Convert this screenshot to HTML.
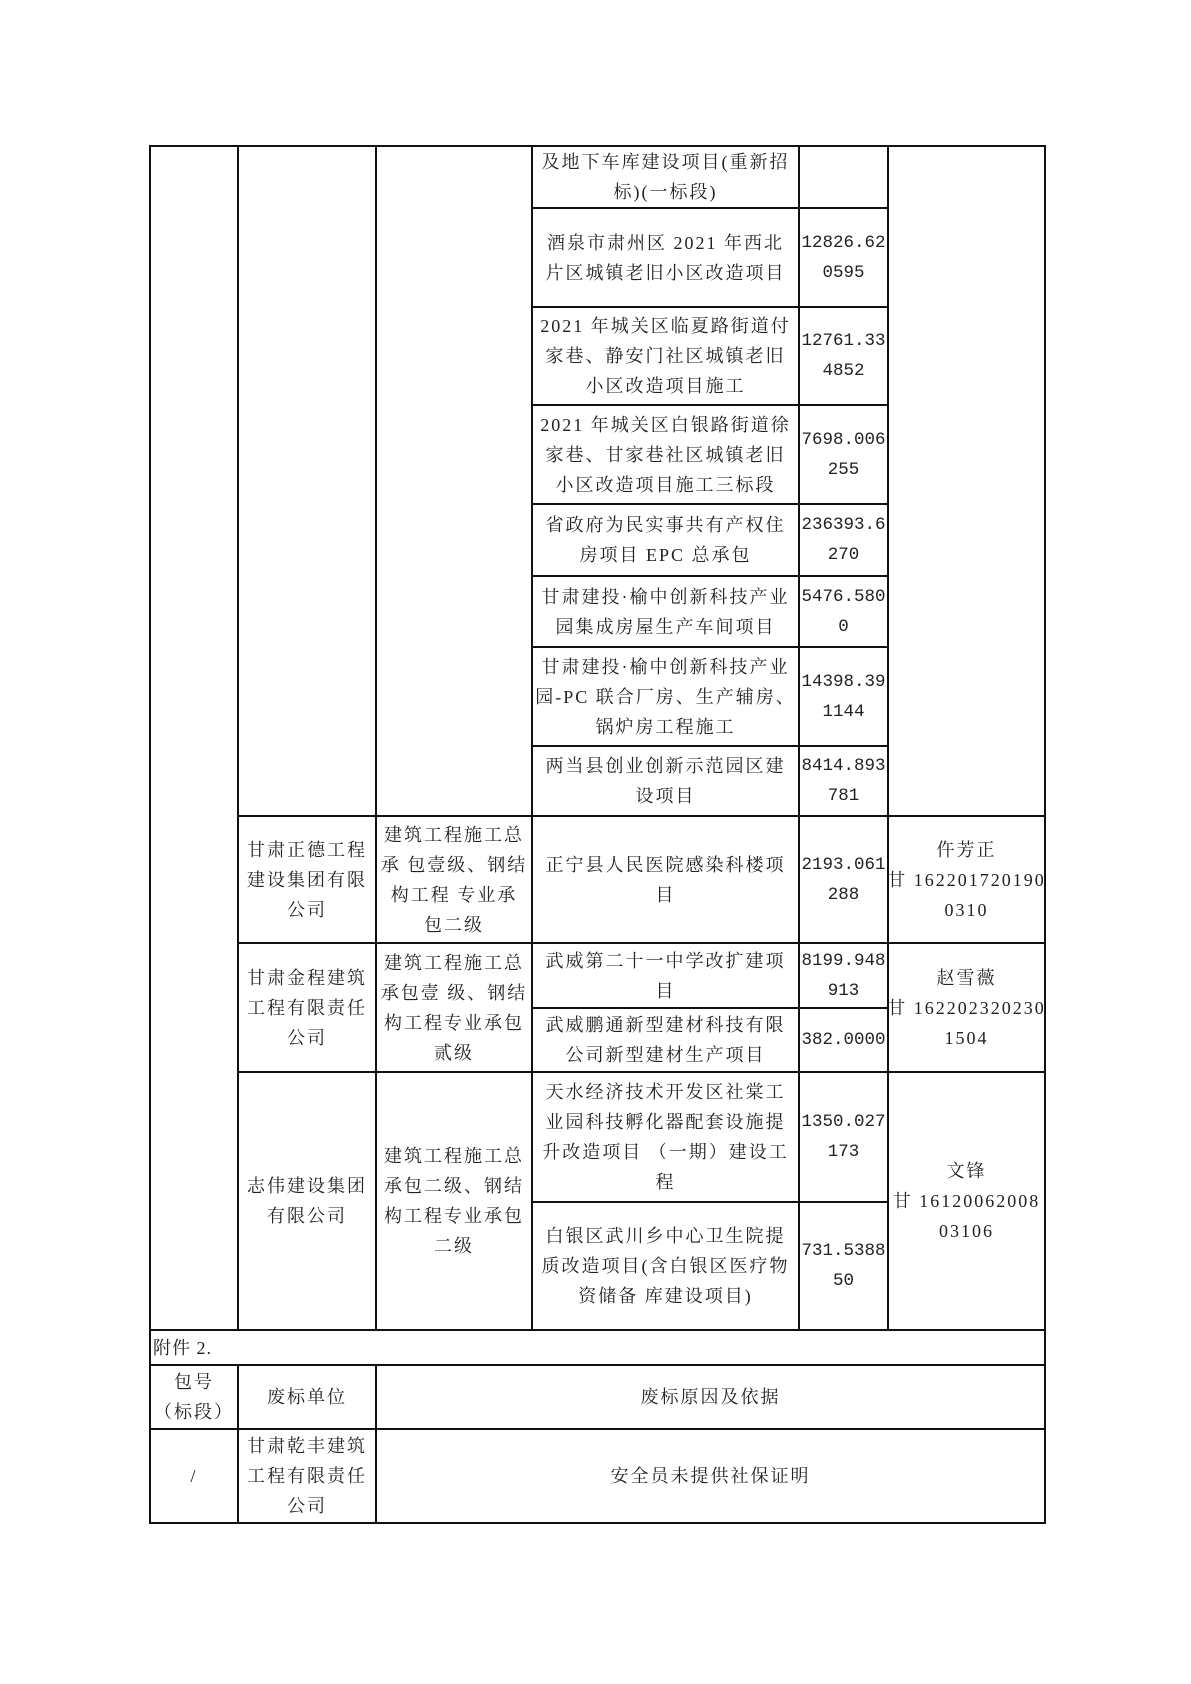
<!DOCTYPE html>
<html><head><meta charset="utf-8"><style>
body{margin:0;width:1191px;height:1684px;background:#fff;position:relative;overflow:hidden}
.c{position:absolute;box-sizing:border-box;border:2px solid #111;display:flex;align-items:center;justify-content:center;text-align:center;font-family:"Liberation Serif","Noto Serif CJK SC",serif;font-size:18px;letter-spacing:2px;line-height:30px;color:#222;white-space:nowrap;overflow:visible}
.n{font-family:"Liberation Mono","Noto Serif CJK SC",monospace;letter-spacing:0;font-size:17.5px}
</style></head><body>
<div class="c" style="left:149px;top:145px;width:90px;height:1186px"></div>
<div class="c" style="left:237px;top:145px;width:140px;height:672px"></div>
<div class="c" style="left:375px;top:145px;width:158px;height:672px"></div>
<div class="c" style="left:887px;top:145px;width:159px;height:672px"></div>

<div class="c" style="left:531px;top:145px;width:269px;height:64px">及地下车库建设项目(重新招<br>标)(一标段)</div>
<div class="c" style="left:798px;top:145px;width:91px;height:64px"></div>

<div class="c" style="left:531px;top:207px;width:269px;height:101px">酒泉市肃州区 2021 年西北<br>片区城镇老旧小区改造项目</div>
<div class="c n" style="left:798px;top:207px;width:91px;height:101px">12826.62<br>0595</div>

<div class="c" style="left:531px;top:306px;width:269px;height:100px">2021 年城关区临夏路街道付<br>家巷、静安门社区城镇老旧<br>小区改造项目施工</div>
<div class="c n" style="left:798px;top:306px;width:91px;height:100px">12761.33<br>4852</div>

<div class="c" style="left:531px;top:404px;width:269px;height:101px">2021 年城关区白银路街道徐<br>家巷、甘家巷社区城镇老旧<br>小区改造项目施工三标段</div>
<div class="c n" style="left:798px;top:404px;width:91px;height:101px">7698.006<br>255</div>

<div class="c" style="left:531px;top:503px;width:269px;height:74px">省政府为民实事共有产权住<br>房项目 EPC 总承包</div>
<div class="c n" style="left:798px;top:503px;width:91px;height:74px">236393.6<br>270</div>

<div class="c" style="left:531px;top:575px;width:269px;height:73px">甘肃建投·榆中创新科技产业<br>园集成房屋生产车间项目</div>
<div class="c n" style="left:798px;top:575px;width:91px;height:73px">5476.580<br>0</div>

<div class="c" style="left:531px;top:646px;width:269px;height:101px">甘肃建投·榆中创新科技产业<br>园-PC 联合厂房、生产辅房、<br>锅炉房工程施工</div>
<div class="c n" style="left:798px;top:646px;width:91px;height:101px">14398.39<br>1144</div>

<div class="c" style="left:531px;top:745px;width:269px;height:72px">两当县创业创新示范园区建<br>设项目</div>
<div class="c n" style="left:798px;top:745px;width:91px;height:72px">8414.893<br>781</div>

<div class="c" style="left:237px;top:815px;width:140px;height:129px">甘肃正德工程<br>建设集团有限<br>公司</div>
<div class="c" style="left:375px;top:815px;width:158px;height:129px">建筑工程施工总<br>承 包壹级、钢结<br>构工程 专业承<br>包二级</div>
<div class="c" style="left:531px;top:815px;width:269px;height:129px">正宁县人民医院感染科楼项<br>目</div>
<div class="c n" style="left:798px;top:815px;width:91px;height:129px">2193.061<br>288</div>
<div class="c" style="left:887px;top:815px;width:159px;height:129px">仵芳正<br>甘 162201720190<br>0310</div>

<div class="c" style="left:237px;top:942px;width:140px;height:131px">甘肃金程建筑<br>工程有限责任<br>公司</div>
<div class="c" style="left:375px;top:942px;width:158px;height:131px">建筑工程施工总<br>承包壹 级、钢结<br>构工程专业承包<br>贰级</div>
<div class="c" style="left:531px;top:942px;width:269px;height:67px">武威第二十一中学改扩建项<br>目</div>
<div class="c n" style="left:798px;top:942px;width:91px;height:67px">8199.948<br>913</div>
<div class="c" style="left:531px;top:1007px;width:269px;height:66px">武威鹏通新型建材科技有限<br>公司新型建材生产项目</div>
<div class="c n" style="left:798px;top:1007px;width:91px;height:66px">382.0000</div>
<div class="c" style="left:887px;top:942px;width:159px;height:131px">赵雪薇<br>甘 162202320230<br>1504</div>

<div class="c" style="left:237px;top:1071px;width:140px;height:260px">志伟建设集团<br>有限公司</div>
<div class="c" style="left:375px;top:1071px;width:158px;height:260px">建筑工程施工总<br>承包二级、钢结<br>构工程专业承包<br>二级</div>
<div class="c" style="left:531px;top:1071px;width:269px;height:132px">天水经济技术开发区社棠工<br>业园科技孵化器配套设施提<br>升改造项目 （一期）建设工<br>程</div>
<div class="c n" style="left:798px;top:1071px;width:91px;height:132px">1350.027<br>173</div>
<div class="c" style="left:531px;top:1201px;width:269px;height:130px">白银区武川乡中心卫生院提<br>质改造项目(含白银区医疗物<br>资储备 库建设项目)</div>
<div class="c n" style="left:798px;top:1201px;width:91px;height:130px">731.5388<br>50</div>
<div class="c" style="left:887px;top:1071px;width:159px;height:260px">文锋<br>甘 16120062008<br>03106</div>

<div class="c" style="left:149px;top:1329px;width:897px;height:37px;justify-content:flex-start;padding-left:2px;letter-spacing:1px">附件 2.</div>
<div class="c" style="left:149px;top:1364px;width:90px;height:66px">包号<br>（标段）</div>
<div class="c" style="left:237px;top:1364px;width:140px;height:66px">废标单位</div>
<div class="c" style="left:375px;top:1364px;width:671px;height:66px">废标原因及依据</div>
<div class="c" style="left:149px;top:1428px;width:90px;height:96px">/</div>
<div class="c" style="left:237px;top:1428px;width:140px;height:96px">甘肃乾丰建筑<br>工程有限责任<br>公司</div>
<div class="c" style="left:375px;top:1428px;width:671px;height:96px">安全员未提供社保证明</div>
</body></html>
